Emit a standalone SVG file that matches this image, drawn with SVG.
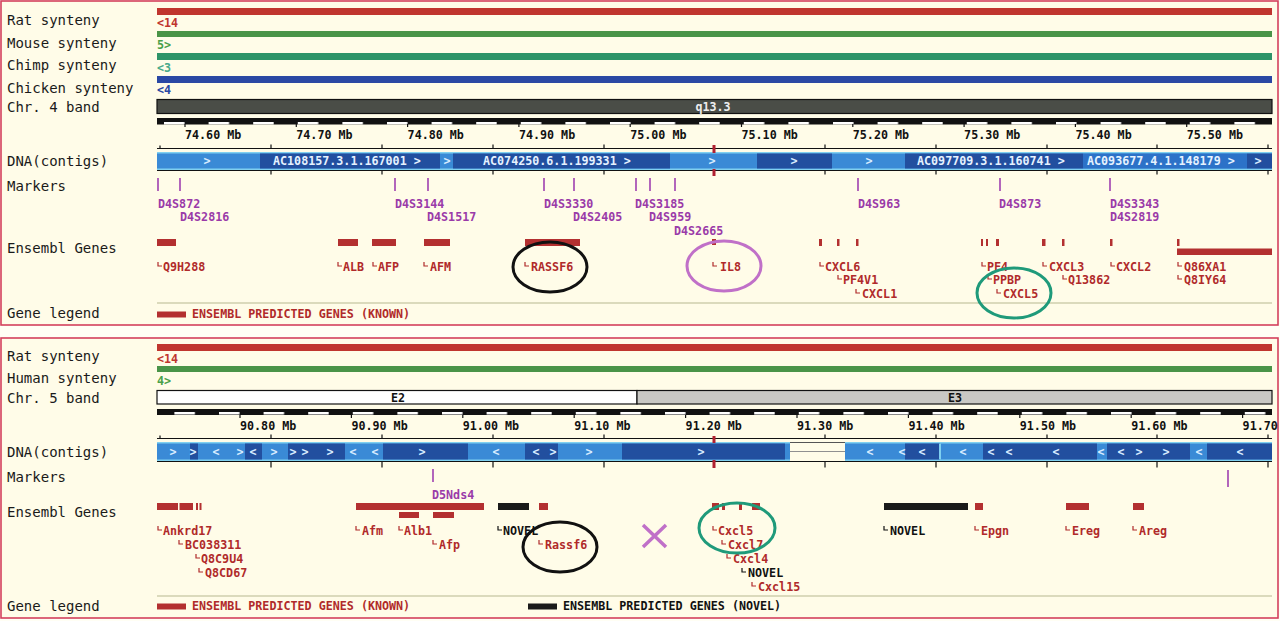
<svg xmlns="http://www.w3.org/2000/svg" width="1280" height="621" viewBox="0 0 1280 621">
<style>
.lab{font-family:"DejaVu Sans Mono","Liberation Mono",monospace;font-size:14px;fill:#1a1a1a}
.sm{font-family:"DejaVu Sans Mono","Liberation Mono",monospace;font-size:11.7px;font-weight:bold}
.tick{fill:#111}
.ctg{fill:#e6f2ff}
.ctgm{fill:#d8ecff;text-anchor:middle}
.mk{fill:#9a3aa8}
.gn{fill:#b02a2a}
.nv{fill:#111}
.mline{stroke:#a040b0;stroke-width:1.6}
.gbar{fill:#b33030}
.nbar{fill:#1a1a1a}
.lmk{fill:none;stroke:#b02a2a;stroke-width:1.2}
.lmkb{fill:none;stroke:#111;stroke-width:1.2}
.sep{stroke:#b8b890;stroke-width:1.2}
.panel{fill:#fffce8;stroke:#d4405c;stroke-width:1.6}
.light{fill:#3a8ad6}
.dark{fill:#224f9f}
.ax{stroke:#111;stroke-width:1.2;fill:none}
</style>
<defs>
<pattern id="scl1" x="163" y="0" width="44.6" height="10" patternUnits="userSpaceOnUse">
<rect x="0" y="0" width="44.6" height="10" fill="#111"/>
<rect x="1" y="2" width="20.5" height="2.5" fill="#fff"/>
</pattern>
<pattern id="scl2" x="218" y="0" width="44.6" height="10" patternUnits="userSpaceOnUse">
<rect x="0" y="0" width="44.6" height="10" fill="#111"/>
<rect x="1" y="2" width="20.5" height="2.5" fill="#fff"/>
</pattern>
</defs>
<rect x="0" y="0" width="1280" height="621" fill="#fffef4"/>

<!-- ================= TOP PANEL (Human chr4) ================= -->
<g id="panel-human">
<rect class="panel" x="1" y="1" width="1277" height="324"/>

<g id="h-labels">
<text class="lab" x="7" y="25">Rat synteny</text>
<text class="lab" x="7" y="48">Mouse synteny</text>
<text class="lab" x="7" y="70">Chimp synteny</text>
<text class="lab" x="7" y="93">Chicken synteny</text>
<text class="lab" x="7" y="112">Chr. 4 band</text>
<text class="lab" x="7" y="166">DNA(contigs)</text>
<text class="lab" x="7" y="191">Markers</text>
<text class="lab" x="7" y="253">Ensembl Genes</text>
<text class="lab" x="7" y="318">Gene legend</text>
</g>

<g id="h-synteny">
<rect x="157" y="8" width="1115" height="7" fill="#c0352e"/>
<text class="sm" x="157" y="27" fill="#c0352e">&lt;14</text>
<rect x="157" y="31" width="1115" height="6" fill="#4a9448"/>
<text class="sm" x="157" y="49" fill="#4aa048">5&gt;</text>
<rect x="157" y="53" width="1115" height="7" fill="#2e9468"/>
<text class="sm" x="157" y="72" fill="#4aaa8a">&lt;3</text>
<rect x="157" y="76" width="1115" height="7" fill="#2a48a4"/>
<text class="sm" x="157" y="94" fill="#2a48a4">&lt;4</text>
</g>

<g id="h-band">
<rect x="157" y="99.5" width="1115" height="14" fill="#4a4d47" stroke="#111" stroke-width="1.2"/>
<text class="sm" x="713" y="111" fill="#eeeeee" text-anchor="middle">q13.3</text>
</g>

<g id="h-scale">
<rect x="157" y="118" width="1115" height="6.5" fill="url(#scl1)"/>
<path class="ax" d="M185 124v3M296.3 124v3M407.6 124v3M518.9 124v3M630.2 124v3M741.5 124v3M852.8 124v3M964.1 124v3M1075.4 124v3M1186.7 124v3"/>
<text class="sm tick" x="185" y="139">74.60 Mb</text>
<text class="sm tick" x="296.3" y="139">74.70 Mb</text>
<text class="sm tick" x="407.6" y="139">74.80 Mb</text>
<text class="sm tick" x="518.9" y="139">74.90 Mb</text>
<text class="sm tick" x="630.2" y="139">75.00 Mb</text>
<text class="sm tick" x="741.5" y="139">75.10 Mb</text>
<text class="sm tick" x="852.8" y="139">75.20 Mb</text>
<text class="sm tick" x="964.1" y="139">75.30 Mb</text>
<text class="sm tick" x="1075.4" y="139">75.40 Mb</text>
<text class="sm tick" x="1186.7" y="139">75.50 Mb</text>
<path class="ax" d="M157 148.5H1272M160 148.5v-3M271 148.5v-4M382 148.5v-4M493 148.5v-4M604 148.5v-4M825 148.5v-4M936 148.5v-4M1047 148.5v-4M1157 148.5v-4M1268 148.5v-4"/>
</g>

<g id="h-contigs">
<rect x="157" y="152" width="1115" height="18" fill="#7fd0f0"/>
<rect class="light" x="157" y="153.5" width="1115" height="15"/>
<rect class="dark" x="260" y="153.5" width="180" height="15"/>
<rect class="dark" x="453" y="153.5" width="217" height="15"/>
<rect class="dark" x="757" y="153.5" width="75" height="15"/>
<rect class="dark" x="905" y="153.5" width="178" height="15"/>
<rect x="1083" y="153.5" width="164" height="15" fill="#2c72c8"/>
<rect class="dark" x="1247" y="153.5" width="25" height="15"/>
<text class="sm ctgm" x="207" y="165">&gt;</text>
<text class="sm ctg" x="273" y="165">AC108157.3.1.167001 &gt;</text>
<text class="sm ctgm" x="447" y="165">&gt;</text>
<text class="sm ctg" x="483" y="165">AC074250.6.1.199331 &gt;</text>
<text class="sm ctgm" x="712" y="165">&gt;</text>
<text class="sm ctgm" x="794" y="165">&gt;</text>
<text class="sm ctgm" x="869" y="165">&gt;</text>
<text class="sm ctg" x="917" y="165">AC097709.3.1.160741 &gt;</text>
<text class="sm ctg" x="1087" y="165">AC093677.4.1.148179 &gt;</text>
<text class="sm ctgm" x="1258" y="165">&gt;</text>
<path class="ax" d="M157 170.5H1272M271 170.5v4M382 170.5v4M493 170.5v4M604 170.5v4M825 170.5v4M936 170.5v4M1047 170.5v4M1157 170.5v4M1268 170.5v4"/>
<rect x="712.5" y="145" width="3" height="8" fill="#b02030"/>
<rect x="712.5" y="169" width="3" height="7" fill="#b02030"/>
</g>

<g id="h-markers">
<path class="mline" d="M158 178v13M180 178v13M395 178v13M428 178v13M544 178v13M574 178v13M636 178v13M650 178v13M675 178v13M858 178v13M1000 178v13M1110 178v13"/>
<text class="sm mk" x="158" y="208">D4S872</text>
<text class="sm mk" x="180" y="221">D4S2816</text>
<text class="sm mk" x="395" y="208">D4S3144</text>
<text class="sm mk" x="427" y="221">D4S1517</text>
<text class="sm mk" x="544" y="208">D4S3330</text>
<text class="sm mk" x="573" y="221">D4S2405</text>
<text class="sm mk" x="635" y="208">D4S3185</text>
<text class="sm mk" x="649" y="221">D4S959</text>
<text class="sm mk" x="674" y="235">D4S2665</text>
<text class="sm mk" x="858" y="208">D4S963</text>
<text class="sm mk" x="999" y="208">D4S873</text>
<text class="sm mk" x="1110" y="208">D4S3343</text>
<text class="sm mk" x="1110" y="221">D4S2819</text>
</g>

<g id="h-genes">
<rect class="gbar" x="157" y="239" width="19" height="7"/>
<rect class="gbar" x="338" y="239" width="20" height="7"/>
<rect class="gbar" x="372" y="239" width="24" height="7"/>
<rect class="gbar" x="424" y="239" width="26" height="7"/>
<rect class="gbar" x="525" y="239" width="55" height="7"/>
<rect class="gbar" x="712" y="239" width="4" height="6"/>
<rect class="gbar" x="819" y="239" width="3" height="7"/>
<rect class="gbar" x="837" y="239" width="2.5" height="7"/>
<rect class="gbar" x="856" y="239" width="2.5" height="7"/>
<rect class="gbar" x="981" y="239" width="2" height="7"/>
<rect class="gbar" x="986" y="239" width="2" height="7"/>
<rect class="gbar" x="996" y="239" width="3" height="7"/>
<rect class="gbar" x="1042" y="239" width="3.5" height="7"/>
<rect class="gbar" x="1062" y="239" width="2.5" height="7"/>
<rect class="gbar" x="1110" y="239" width="2.5" height="7"/>
<rect class="gbar" x="1177" y="239" width="2.5" height="7"/>
<rect class="gbar" x="1177" y="248.5" width="95" height="6.5"/>
<path class="lmk" d="M158 262v4h4M338 262v4h4M373 262v4h4M424 262v4h4M525 262v4h4M713 262v4h4M820 262v4h4M838 275v4h4M856 289v4h4M982 262v4h4M988 275v4h4M997 289v4h4M1043 262v4h4M1063 275v4h4M1111 262v4h4M1178 262v4h4M1178 275v4h4"/>
<text class="sm gn" x="163" y="271">Q9H288</text>
<text class="sm gn" x="343" y="271">ALB</text>
<text class="sm gn" x="378" y="271">AFP</text>
<text class="sm gn" x="430" y="271">AFM</text>
<text class="sm gn" x="531" y="271">RASSF6</text>
<text class="sm gn" x="720" y="271">IL8</text>
<text class="sm gn" x="825" y="271">CXCL6</text>
<text class="sm gn" x="843" y="284">PF4V1</text>
<text class="sm gn" x="862" y="298">CXCL1</text>
<text class="sm gn" x="987" y="271">PF4</text>
<text class="sm gn" x="993" y="284">PPBP</text>
<text class="sm gn" x="1003" y="298">CXCL5</text>
<text class="sm gn" x="1049" y="271">CXCL3</text>
<text class="sm gn" x="1068" y="284">Q13862</text>
<text class="sm gn" x="1116" y="271">CXCL2</text>
<text class="sm gn" x="1184" y="271">Q86XA1</text>
<text class="sm gn" x="1184" y="284">Q8IY64</text>
</g>

<g id="h-legend">
<line class="sep" x1="157" y1="303" x2="1272" y2="303"/>
<rect class="gbar" x="157" y="311.5" width="29" height="6"/>
<text class="sm gn" x="192" y="318">ENSEMBL PREDICTED GENES (KNOWN)</text>
</g>

<g id="h-highlights" fill="none" stroke-width="3">
<ellipse cx="550" cy="267" rx="37" ry="25" stroke="#111"/>
<ellipse cx="724" cy="266" rx="37" ry="25" stroke="#c070c8"/>
<ellipse cx="1014" cy="293" rx="37" ry="25" stroke="#1f9a7a"/>
</g>
</g>

<!-- ================= BOTTOM PANEL (Mouse chr5) ================= -->
<g id="panel-mouse">
<rect class="panel" x="1" y="338" width="1277" height="280"/>

<g id="m-labels">
<text class="lab" x="7" y="361">Rat synteny</text>
<text class="lab" x="7" y="383">Human synteny</text>
<text class="lab" x="7" y="403">Chr. 5 band</text>
<text class="lab" x="7" y="457">DNA(contigs)</text>
<text class="lab" x="7" y="482">Markers</text>
<text class="lab" x="7" y="517">Ensembl Genes</text>
<text class="lab" x="7" y="611">Gene legend</text>
</g>

<g id="m-synteny">
<rect x="157" y="344" width="1115" height="7" fill="#c0352e"/>
<text class="sm" x="157" y="363" fill="#c0352e">&lt;14</text>
<rect x="157" y="366" width="1115" height="6" fill="#4a9448"/>
<text class="sm" x="157" y="385" fill="#4aa048">4&gt;</text>
</g>

<g id="m-band">
<rect x="157" y="390.5" width="480" height="13.5" fill="#ffffff" stroke="#111" stroke-width="1.2"/>
<rect x="637" y="390.5" width="635" height="13.5" fill="#c9c8c4" stroke="#111" stroke-width="1.2"/>
<text class="sm" x="398" y="401.5" fill="#111" text-anchor="middle">E2</text>
<text class="sm" x="955" y="401.5" fill="#111" text-anchor="middle">E3</text>
</g>

<g id="m-scale">
<rect x="157" y="409" width="1115" height="6" fill="url(#scl2)"/>
<path class="ax" d="M240 415v3M351.4 415v3M462.8 415v3M574.2 415v3M685.6 415v3M797 415v3M908.4 415v3M1019.8 415v3M1131.2 415v3M1242.6 415v3"/>
<text class="sm tick" x="240" y="430">90.80 Mb</text>
<text class="sm tick" x="351.4" y="430">90.90 Mb</text>
<text class="sm tick" x="462.8" y="430">91.00 Mb</text>
<text class="sm tick" x="574.2" y="430">91.10 Mb</text>
<text class="sm tick" x="685.6" y="430">91.20 Mb</text>
<text class="sm tick" x="797" y="430">91.30 Mb</text>
<text class="sm tick" x="908.4" y="430">91.40 Mb</text>
<text class="sm tick" x="1019.8" y="430">91.50 Mb</text>
<text class="sm tick" x="1131.2" y="430">91.60 Mb</text>
<text class="sm tick" x="1242.6" y="430">91.70</text>
<path class="ax" d="M157 438.5H1272M160 438.5v-3M271 438.5v-4M382 438.5v-4M493 438.5v-4M604 438.5v-4M825 438.5v-4M936 438.5v-4M1047 438.5v-4M1157 438.5v-4M1268 438.5v-4"/>
</g>

<g id="m-contigs">
<rect x="157" y="442" width="1115" height="19" fill="#7fd0f0"/>
<rect class="light" x="157" y="443.5" width="1115" height="16"/>
<rect class="dark" x="190" y="443.5" width="8" height="16"/>
<rect class="dark" x="245" y="443.5" width="17" height="16"/>
<rect class="dark" x="288" y="443.5" width="57" height="16"/>
<rect class="dark" x="383" y="443.5" width="85" height="16"/>
<rect class="dark" x="525" y="443.5" width="33" height="16"/>
<rect class="dark" x="622" y="443.5" width="163" height="16"/>
<rect class="dark" x="905" y="443.5" width="35" height="16"/>
<rect class="dark" x="983" y="443.5" width="114" height="16"/>
<rect class="dark" x="1107" y="443.5" width="83" height="16"/>
<rect class="dark" x="1207" y="443.5" width="65" height="16"/>
<rect x="790" y="442" width="55" height="19" fill="#fffce8"/>
<line x1="790" y1="451.5" x2="845" y2="451.5" stroke="#909090" stroke-width="1"/>
<line x1="790" y1="442.5" x2="845" y2="442.5" stroke="#555" stroke-width="1"/>
<line x1="940" y1="443.5" x2="940" y2="459.5" stroke="#7fd0f0" stroke-width="2"/>
<g class="sm ctgm">
<text x="173" y="456">&gt;</text><text x="193" y="456">&gt;</text><text x="216" y="456">&lt;</text><text x="240" y="456">&gt;</text>
<text x="253" y="456">&lt;</text><text x="274" y="456">&gt;</text><text x="293" y="456">&gt;</text><text x="305" y="456">&gt;</text>
<text x="330" y="456">&gt;</text><text x="353" y="456">&lt;</text><text x="375" y="456">&lt;</text><text x="422" y="456">&gt;</text>
<text x="496" y="456">&lt;</text><text x="536" y="456">&lt;</text><text x="553" y="456">&gt;</text><text x="589" y="456">&gt;</text>
<text x="701" y="456">&gt;</text><text x="870" y="456">&lt;</text><text x="902" y="456">&lt;</text><text x="922" y="456">&lt;</text>
<text x="963" y="456">&lt;</text><text x="991" y="456">&lt;</text><text x="1009" y="456">&lt;</text><text x="1056" y="456">&lt;</text>
<text x="1101" y="456">&lt;</text><text x="1121" y="456">&lt;</text><text x="1139" y="456">&gt;</text><text x="1166" y="456">&gt;</text>
<text x="1199" y="456">&lt;</text><text x="1240" y="456">&lt;</text>
</g>
<path class="ax" d="M157 461.5H1272M271 461.5v6M382 461.5v6M493 461.5v6M604 461.5v6M825 461.5v6M936 461.5v6M1047 461.5v6M1157 461.5v6M1268 461.5v6"/>
<rect x="712.5" y="436" width="3" height="7" fill="#b02030"/>
<rect x="712.5" y="460" width="3" height="8" fill="#b02030"/>
</g>

<g id="m-markers">
<path class="mline" d="M433 469v13M1228 470v17"/>
<text class="sm mk" x="432" y="499">D5Nds4</text>
</g>

<g id="m-genes">
<rect class="gbar" x="157" y="503" width="21" height="7"/>
<rect class="gbar" x="179.5" y="503" width="13.5" height="7"/>
<rect class="gbar" x="196" y="503" width="2" height="7"/>
<rect class="gbar" x="199.5" y="503" width="2" height="7"/>
<rect class="gbar" x="356" y="503" width="128" height="7"/>
<rect class="gbar" x="399" y="512" width="20" height="6"/>
<rect class="gbar" x="433" y="512" width="21" height="6"/>
<rect class="nbar" x="498" y="503" width="31" height="7"/>
<rect class="gbar" x="539" y="503" width="9" height="7"/>
<rect class="gbar" x="712" y="503" width="7" height="7"/>
<rect class="gbar" x="722" y="503" width="3" height="7"/>
<rect class="gbar" x="739" y="503" width="3" height="7"/>
<rect class="gbar" x="752" y="503" width="8" height="7"/>
<rect class="nbar" x="884" y="503" width="84" height="7"/>
<rect class="gbar" x="975" y="503" width="8" height="7"/>
<rect class="gbar" x="1066" y="503" width="23" height="7"/>
<rect class="gbar" x="1133" y="503" width="11" height="7"/>
<path class="lmk" d="M158 526v4h4M179 540v4h4M196 554v4h4M199 568v4h4M356 526v4h4M399 526v4h4M433 540v4h4M539 540v4h4M713 526v4h4M722 540v4h4M727 554v4h4M752 582v4h4M975 526v4h4M1066 526v4h4M1133 526v4h4"/>
<path class="lmkb" d="M498 526v4h4M742 568v4h4M884 526v4h4"/>
<text class="sm gn" x="163" y="535">Ankrd17</text>
<text class="sm gn" x="185" y="549">BC038311</text>
<text class="sm gn" x="201" y="563">Q8C9U4</text>
<text class="sm gn" x="205" y="577">Q8CD67</text>
<text class="sm gn" x="362" y="535">Afm</text>
<text class="sm gn" x="404" y="535">Alb1</text>
<text class="sm gn" x="439" y="549">Afp</text>
<text class="sm nv" x="503" y="535">NOVEL</text>
<text class="sm gn" x="545" y="549">Rassf6</text>
<text class="sm gn" x="718" y="535">Cxcl5</text>
<text class="sm gn" x="728" y="549">Cxcl7</text>
<text class="sm gn" x="733" y="563">Cxcl4</text>
<text class="sm nv" x="748" y="577">NOVEL</text>
<text class="sm gn" x="758" y="591">Cxcl15</text>
<text class="sm nv" x="890" y="535">NOVEL</text>
<text class="sm gn" x="981" y="535">Epgn</text>
<text class="sm gn" x="1072" y="535">Ereg</text>
<text class="sm gn" x="1139" y="535">Areg</text>
</g>

<g id="m-legend">
<line class="sep" x1="157" y1="596" x2="1272" y2="596"/>
<rect class="gbar" x="157" y="603.5" width="29" height="6"/>
<text class="sm gn" x="192" y="610">ENSEMBL PREDICTED GENES (KNOWN)</text>
<rect class="nbar" x="528" y="603.5" width="29" height="6"/>
<text class="sm nv" x="563" y="610">ENSEMBL PREDICTED GENES (NOVEL)</text>
</g>

<g id="m-highlights" fill="none" stroke-width="3">
<ellipse cx="560" cy="547" rx="37" ry="25" stroke="#111"/>
<path d="M643 525l23 22M666 525l-23 22" stroke="#c070c8" stroke-width="3.5"/>
<ellipse cx="737" cy="528" rx="38" ry="25" stroke="#1f9a7a"/>
</g>
</g>
</svg>
